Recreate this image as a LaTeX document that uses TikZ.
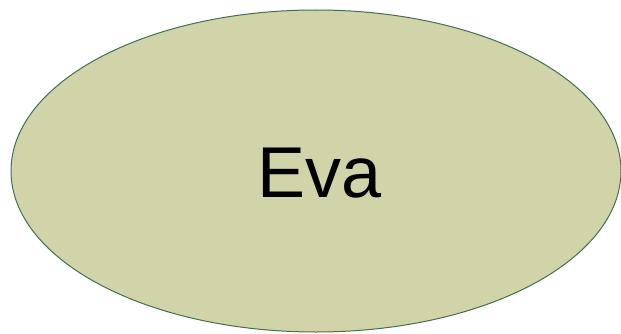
\documentclass[tikz,border=0pt]{standalone}
\usepackage{fontspec}
\setmainfont{Liberation Sans}
\usetikzlibrary{shapes.geometric}
\definecolor{evafill}{RGB}{209,211,169}
\definecolor{evaline}{RGB}{70,110,80}
\tikzset{evanode/.style={ellipse, draw=evaline, fill=evafill, line width=1pt,
  minimum width=610pt, minimum height=322pt, inner sep=0pt}}
\begin{document}
\begin{tikzpicture}[x=1pt,y=1pt]
\useasboundingbox (0,0) rectangle (621,333);
\node[evanode] (eva) at (316,162) {};
\node (evatext) at (320,160) {\fontsize{72}{80}\selectfont Eva};
\end{tikzpicture}
\end{document}
